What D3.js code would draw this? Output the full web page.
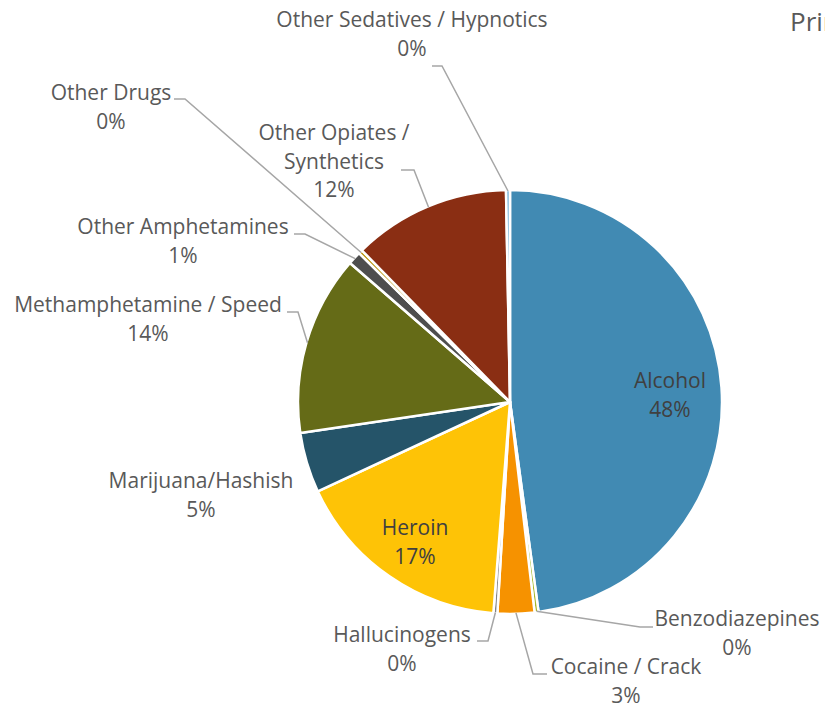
<!DOCTYPE html>
<html>
<head>
<meta charset="utf-8">
<script src="https://cdn.jsdelivr.net/npm/d3@7"></script>
<style>
  html, body { margin: 0; padding: 0; background: #fff; overflow: hidden; }
  svg { display: block; }
  text { font-family: "Open Sans", "Noto Sans", sans-serif; }
</style>
</head>
<body>
<svg id="chart" width="825" height="709"></svg>
<script>
// ---- data ----
const categories = [
  "Alcohol", "Benzodiazepines", "Cocaine / Crack", "Hallucinogens", "Heroin",
  "Marijuana/Hashish", "Methamphetamine / Speed", "Other Amphetamines",
  "Other Drugs", "Other Opiates / Synthetics", "Other Sedatives / Hypnotics"
];
const values = [47.8, 0.3, 2.8, 0.3, 16.8, 4.6, 13.7, 1.0, 0.3, 12.0, 0.3];
const colors = [
  "#418AB3", "#A6B727", "#F69200", "#838383", "#FEC306",
  "#255469", "#656B17", "#4E4E4E", "#B8930A", "#8A2E13", "#7DB7DA"
];
// label text lines (category split as displayed)
const labelLines = [
  ["Alcohol"], ["Benzodiazepines"], ["Cocaine / Crack"], ["Hallucinogens"], ["Heroin"],
  ["Marijuana/Hashish"], ["Methamphetamine / Speed"], ["Other Amphetamines"],
  ["Other Drugs"], ["Other Opiates /", "Synthetics"], ["Other Sedatives / Hypnotics"]
];
const titleText = "Primary Substance at Admission";

// ---- layout (not data) ----
const W = 825, H = 709;
const cx = 510, cy = 402, R = 212;
const layout = [
  {x: 670, y: 381, inside: true, leader: null},
  {x: 737, y: 619, leader: [[653, 627], [640, 627]]},
  {x: 626, y: 667, leader: [[547, 674], [533, 674]]},
  {x: 402, y: 635, leader: [[477, 641], [488, 641]]},
  {x: 415, y: 528, inside: true, leader: null},
  {x: 201, y: 481, leader: null},
  {x: 148, y: 305, leader: [[287, 312], [298, 312]]},
  {x: 183, y: 227, leader: [[294, 234], [305, 234]]},
  {x: 111, y: 93,  leader: [[174, 99], [185, 99]]},
  {x: 334, y: 133, leader: [[401, 170], [414, 170]]},
  {x: 412, y: 20,  leader: [[432, 66], [442, 66]]}
];

const svg = d3.select("#chart");
const g = svg.append("g").attr("transform", `translate(${cx},${cy})`);

const data = categories.map((c, i) => ({name: c, value: values[i], i}));
const pie = d3.pie().sort(null).value(d => d.value).startAngle(0).endAngle(2 * Math.PI);
const arcs = pie(data);
const arc = d3.arc().innerRadius(0).outerRadius(R);

g.selectAll("path.slice")
  .data(arcs)
  .join("path")
  .attr("class", "slice")
  .attr("d", arc)
  .attr("fill", d => colors[d.data.i])
  .attr("stroke", "#fff")
  .attr("stroke-width", 2.5)
  .attr("stroke-linejoin", "round");

// leader lines
const edgePoint = d => {
  const a = (d.startAngle + d.endAngle) / 2;
  return [cx + (R - 1) * Math.sin(a), cy - (R - 1) * Math.cos(a)];
};
arcs.forEach((d, i) => {
  const L = layout[i];
  if (!L.leader) return;
  const pts = [L.leader[0], L.leader[1], edgePoint(d)];
  svg.append("path")
    .attr("d", d3.line()(pts))
    .attr("fill", "none")
    .attr("stroke", "#A6A6A6")
    .attr("stroke-width", 1.5);
});

// labels
const fmt = v => Math.round(v) + "%";
const lineH = 28.5;
arcs.forEach((d, i) => {
  const L = layout[i];
  const lines = labelLines[i].concat([fmt(values[i])]);
  const t = svg.append("text")
    .attr("text-anchor", "middle")
    .attr("font-size", 21)
    .attr("fill", L.inside ? "#404040" : "#595959");
  lines.forEach((s, k) => {
    t.append("tspan")
      .attr("x", L.x)
      .attr("y", L.y + k * lineH)
      .attr("dy", "0.35em")
      .text(s);
  });
});

// title (cut off at the right edge, as in the reference)
svg.append("text")
  .attr("x", 790)
  .attr("y", 22)
  .attr("dy", "0.35em")
  .attr("font-size", 26)
  .attr("fill", "#595959")
  .text(titleText);
</script>
</body>
</html>
